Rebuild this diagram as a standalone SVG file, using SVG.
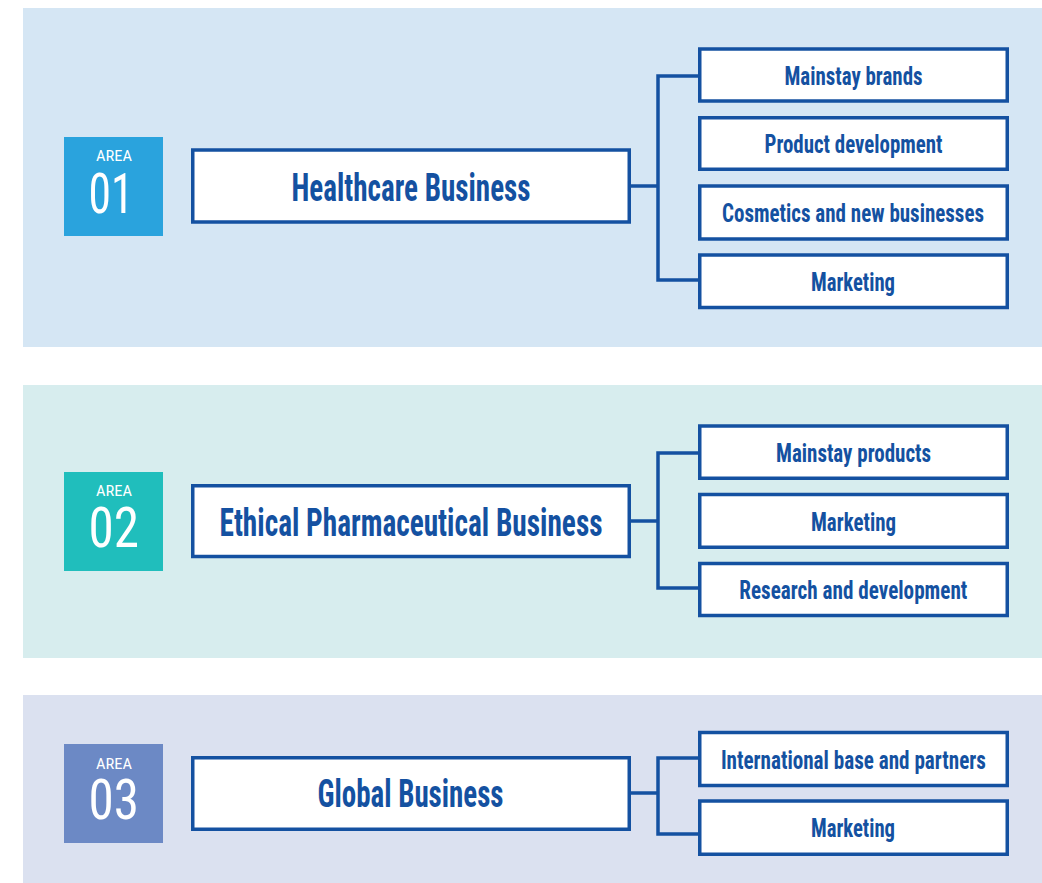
<svg xmlns="http://www.w3.org/2000/svg" width="1042" height="883" viewBox="0 0 1042 883">
  <style>
    .panel1 { fill: #d5e6f4; }
    .panel2 { fill: #d7edee; }
    .panel3 { fill: #dbe1f0; }
    .box { fill: #ffffff; stroke: #1451a1; stroke-width: 3.5; }
    .link { fill: none; stroke: #1451a1; stroke-width: 3.5; stroke-linejoin: miter; }
    .lbl { font-family: "Roboto Condensed", "Liberation Sans Narrow", "DejaVu Sans Condensed", Roboto, sans-serif; font-weight: bold; fill: #1451a1; text-anchor: middle; }
    .main { font-size: 38px; }
    .sub { font-size: 25px; }
    .area { font-family: "Roboto Condensed", "Liberation Sans Narrow", "DejaVu Sans Condensed", Roboto, sans-serif; fill: #ffffff; text-anchor: middle; font-size: 14px; }
    .num { font-family: "Roboto Condensed", "Liberation Sans Narrow", "DejaVu Sans Condensed", Roboto, sans-serif; fill: #ffffff; text-anchor: middle; font-size: 56px; }
  </style>

  <!-- background bands -->
  <rect class="panel1" x="23" y="8" width="1019" height="339"/>
  <rect class="panel2" x="23" y="385" width="1019" height="273"/>
  <rect class="panel3" x="23" y="695" width="1019" height="188"/>

  <!-- connectors -->
  <g id="connectors">
    <path class="link" d="M631 186 H658 M698 76 H658 V280 H698"/>
    <path class="link" d="M631 521 H658 M698 453 H658 V588 H698"/>
    <path class="link" d="M631 793 H658 M698 758 H658 V834 H698"/>
  </g>

  <!-- area 01 -->
  <g id="badge-01">
    <rect x="64" y="137" width="99" height="99" fill="#2aa3dd"/>
    <text class="area" x="114" y="160.5" textLength="36" lengthAdjust="spacingAndGlyphs">AREA</text>
    <text class="num" x="111" y="213" textLength="45" lengthAdjust="spacingAndGlyphs">01</text>
  </g>
  <g id="healthcare">
    <rect class="box" x="192.75" y="150" width="436.5" height="72"/>
    <text class="lbl main" x="411" y="200.5" textLength="239" lengthAdjust="spacingAndGlyphs">Healthcare Business</text>
  </g>
  <g id="mainstay-brands">
    <rect class="box" x="699.75" y="49" width="307.5" height="52"/>
    <text class="lbl sub" x="853.5" y="85" textLength="138" lengthAdjust="spacingAndGlyphs">Mainstay brands</text>
  </g>
  <g id="product-development">
    <rect class="box" x="699.75" y="117.75" width="307.5" height="51.5"/>
    <text class="lbl sub" x="853.5" y="153.3" textLength="178" lengthAdjust="spacingAndGlyphs">Product development</text>
  </g>
  <g id="cosmetics">
    <rect class="box" x="699.75" y="186" width="307.5" height="53"/>
    <text class="lbl sub" x="853" y="222" textLength="262" lengthAdjust="spacingAndGlyphs">Cosmetics and new businesses</text>
  </g>
  <g id="marketing-1">
    <rect class="box" x="699.75" y="255" width="307.5" height="52.5"/>
    <text class="lbl sub" x="853" y="290.5" textLength="84" lengthAdjust="spacingAndGlyphs">Marketing</text>
  </g>

  <!-- area 02 -->
  <g id="badge-02">
    <rect x="64" y="472" width="99" height="99" fill="#20bebc"/>
    <text class="area" x="114" y="495.5" textLength="36" lengthAdjust="spacingAndGlyphs">AREA</text>
    <text class="num" x="113.7" y="547" textLength="50.5" lengthAdjust="spacingAndGlyphs">02</text>
  </g>
  <g id="ethical">
    <rect class="box" x="192.75" y="485.75" width="436.5" height="70.75"/>
    <text class="lbl main" x="411" y="535.7" textLength="383" lengthAdjust="spacingAndGlyphs">Ethical Pharmaceutical Business</text>
  </g>
  <g id="mainstay-products">
    <rect class="box" x="699.75" y="426" width="307.5" height="52.25"/>
    <text class="lbl sub" x="853.5" y="461.7" textLength="155" lengthAdjust="spacingAndGlyphs">Mainstay products</text>
  </g>
  <g id="marketing-2">
    <rect class="box" x="699.75" y="494.5" width="307.5" height="52.75"/>
    <text class="lbl sub" x="853.5" y="530.5" textLength="85" lengthAdjust="spacingAndGlyphs">Marketing</text>
  </g>
  <g id="research">
    <rect class="box" x="699.75" y="563.5" width="307.5" height="52"/>
    <text class="lbl sub" x="853.3" y="599" textLength="228" lengthAdjust="spacingAndGlyphs">Research and development</text>
  </g>

  <!-- area 03 -->
  <g id="badge-03">
    <rect x="64" y="744" width="99" height="99" fill="#6c89c5"/>
    <text class="area" x="114" y="768.5" textLength="36" lengthAdjust="spacingAndGlyphs">AREA</text>
    <text class="num" x="113.7" y="819.3" textLength="50.5" lengthAdjust="spacingAndGlyphs">03</text>
  </g>
  <g id="global">
    <rect class="box" x="192.75" y="757.75" width="436.5" height="71.5"/>
    <text class="lbl main" x="410.5" y="807.3" textLength="186" lengthAdjust="spacingAndGlyphs">Global Business</text>
  </g>
  <g id="international">
    <rect class="box" x="699.75" y="732.5" width="307.5" height="53"/>
    <text class="lbl sub" x="853.4" y="768.5" textLength="265" lengthAdjust="spacingAndGlyphs">International base and partners</text>
  </g>
  <g id="marketing-3">
    <rect class="box" x="699.75" y="801" width="307.5" height="53.25"/>
    <text class="lbl sub" x="853" y="837" textLength="84" lengthAdjust="spacingAndGlyphs">Marketing</text>
  </g>
</svg>
